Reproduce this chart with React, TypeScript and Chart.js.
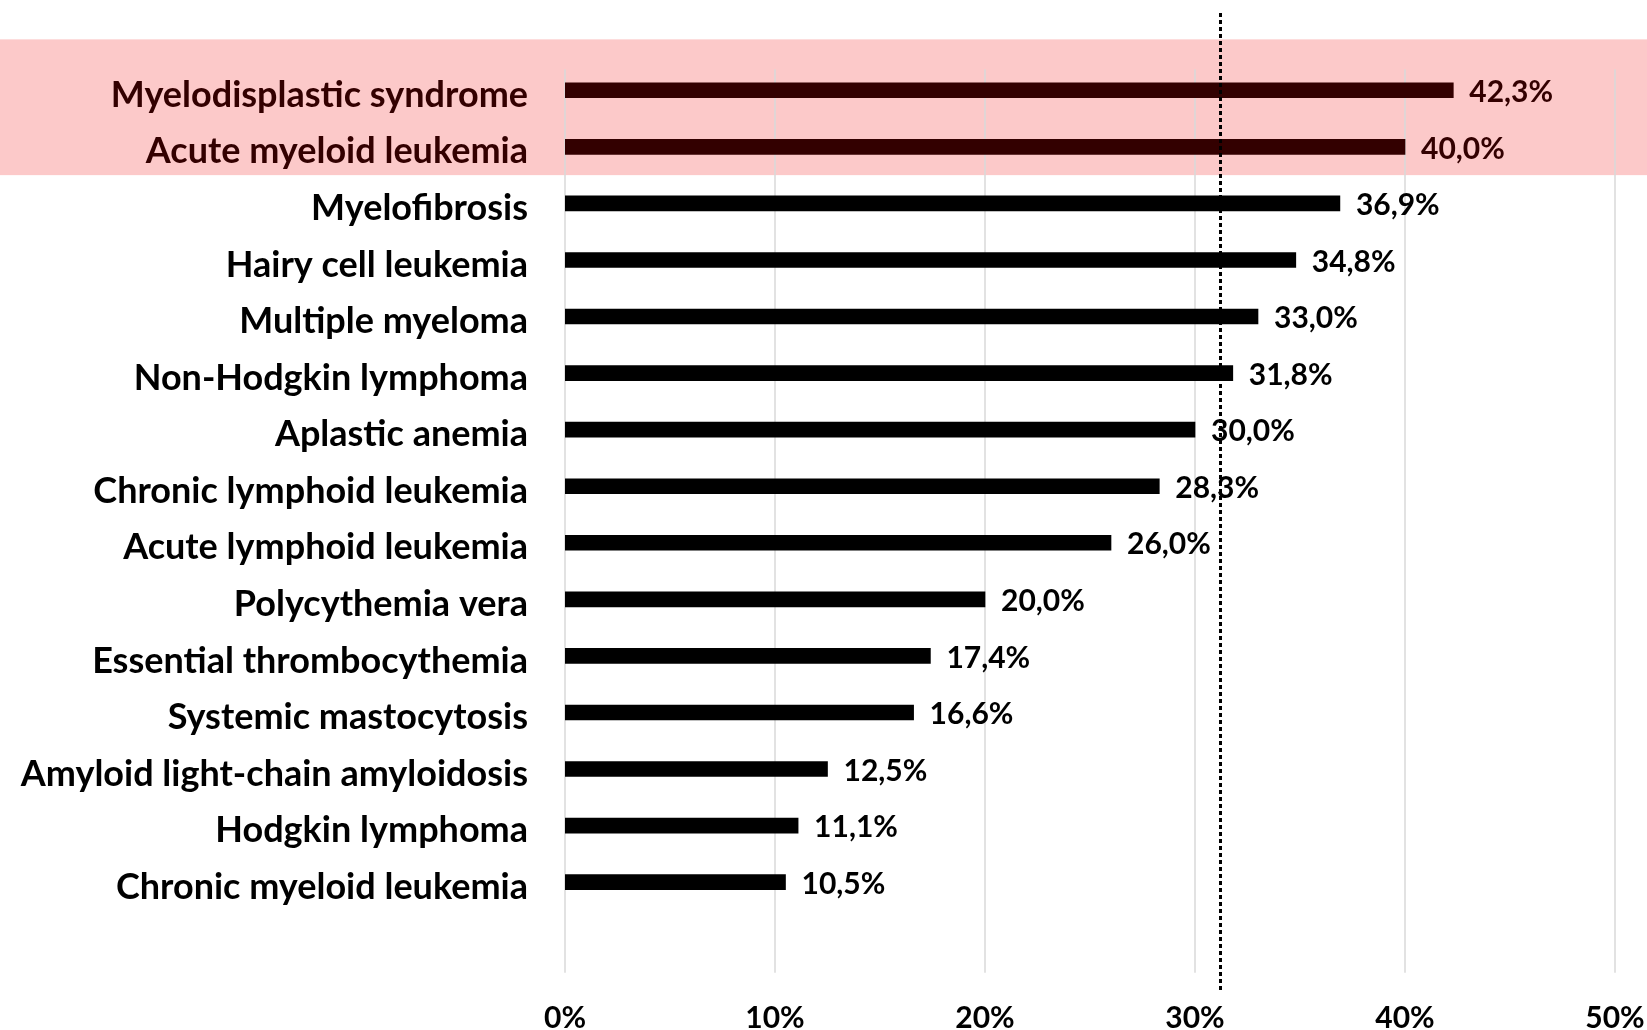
import React, { useEffect, useRef } from 'react';
import { Chart, registerables } from 'chart.js';

Chart.register(...registerables);

const categories = [
  'Myelodisplastic syndrome',
  'Acute myeloid leukemia',
  'Myelofibrosis',
  'Hairy cell leukemia',
  'Multiple myeloma',
  'Non-Hodgkin lymphoma',
  'Aplastic anemia',
  'Chronic lymphoid leukemia',
  'Acute lymphoid leukemia',
  'Polycythemia vera',
  'Essential thrombocythemia',
  'Systemic mastocytosis',
  'Amyloid light-chain amyloidosis',
  'Hodgkin lymphoma',
  'Chronic myeloid leukemia',
];
const values = [42.3, 40.0, 36.9, 34.8, 33.0, 31.8, 30.0, 28.3, 26.0, 20.0, 17.4, 16.6, 12.5, 11.1, 10.5];
const highlightCount = 2;
const referenceLine = 31.2;
const xTicks = [0, 10, 20, 30, 40, 50];

const FONT = 'Lato, "Open Sans", sans-serif';
const DARK = '#330000';
const BLACK = '#000000';
const PINK = '#FCC9C9';

const fmt = (v: number) => v.toFixed(1).replace('.', ',') + '%';

const decor = {
  id: 'decor',
  beforeDraw(chart: any) {
    const { ctx, scales, width } = chart;
    const x = scales.x;
    const y = scales.y;
    ctx.save();
    const bTop = y.getPixelForValue(-0.9);
    const bBot = y.getPixelForValue(highlightCount - 0.5);
    ctx.fillStyle = PINK;
    ctx.fillRect(0, bTop, width, bBot - bTop);
    const gTop = y.getPixelForValue(-0.37);
    const gBot = y.getPixelForValue(15.6);
    ctx.strokeStyle = '#D9D9D9';
    ctx.lineWidth = 1.5;
    xTicks.forEach((t) => {
      const px = x.getPixelForValue(t);
      ctx.beginPath();
      ctx.moveTo(px, gTop);
      ctx.lineTo(px, gBot);
      ctx.stroke();
    });
    ctx.restore();
  },
  afterDatasetsDraw(chart: any) {
    const { ctx, scales } = chart;
    const x = scales.x;
    const y = scales.y;
    const meta = chart.getDatasetMeta(0);
    ctx.save();
    ctx.font = `bold 30px ${FONT}`;
    ctx.textAlign = 'left';
    ctx.textBaseline = 'middle';
    meta.data.forEach((bar: any, i: number) => {
      const v = values[i];
      if (v == null) return;
      ctx.fillStyle = i < highlightCount ? DARK : BLACK;
      ctx.fillText(fmt(v), bar.x + 16, bar.y + 2);
    });
    const px = Math.round(x.getPixelForValue(referenceLine)) + 0.5;
    ctx.strokeStyle = BLACK;
    ctx.lineWidth = 3;
    ctx.setLineDash([4, 3]);
    ctx.beginPath();
    ctx.moveTo(px, Math.round(y.getPixelForValue(-1.37)));
    ctx.lineTo(px, Math.round(y.getPixelForValue(15.93)));
    ctx.stroke();
    ctx.restore();
  },
};

export default function App() {
  const ref = useRef<HTMLCanvasElement | null>(null);
  useEffect(() => {
    document.body.style.margin = '0';
    const canvas = ref.current;
    if (!canvas) return;
    const labels = [...categories, ''];
    const data = [...values, null];
    const chart = new Chart(canvas, {
      type: 'bar',
      data: {
        labels,
        datasets: [
          {
            data,
            backgroundColor: labels.map((_, i) => (i < highlightCount ? DARK : BLACK)),
            barThickness: 15,
            borderWidth: 0,
          },
        ],
      },
      options: {
        indexAxis: 'y',
        responsive: false,
        animation: false,
        devicePixelRatio: 1,
        layout: { padding: { top: 62, right: 32, left: 0, bottom: 0 } },
        plugins: { legend: { display: false }, tooltip: { enabled: false } },
        scales: {
          x: {
            min: 0,
            max: 50,
            ticks: {
              stepSize: 10,
              callback: (v: any) => v + '%',
              font: { family: FONT, weight: 'bold', size: 30 },
              color: BLACK,
              padding: 33,
              maxRotation: 0,
            },
            grid: { display: false, drawTicks: false },
            border: { display: false },
            afterFit: (s: any) => {
              s.height = 63;
              s.paddingLeft = 0;
              s.paddingRight = 0;
            },
          },
          y: {
            ticks: {
              font: { family: FONT, weight: 'bold', size: 36 },
              color: (c: any) => (c.index < highlightCount ? DARK : BLACK),
              padding: 37,
              labelOffset: 5,
              autoSkip: false,
            },
            grid: { display: false, drawTicks: false },
            border: { display: false },
            afterFit: (s: any) => {
              s.width = 565;
            },
          },
        },
      },
      plugins: [decor],
    });
    return () => chart.destroy();
  }, []);
  return <canvas ref={ref} width={1647} height={1030} style={{ display: 'block' }} />;
}
